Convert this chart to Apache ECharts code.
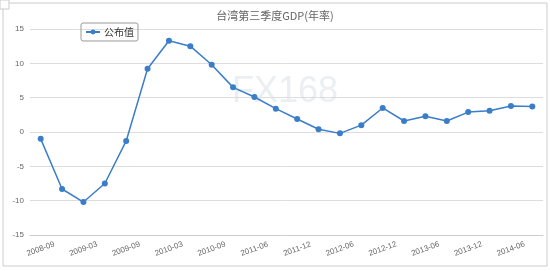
<!DOCTYPE html>
<html><head><meta charset="utf-8">
<script src="https://cdn.jsdelivr.net/npm/echarts@6/dist/echarts.min.js"></script>
<style>html,body{margin:0;padding:0;background:#fff}#c{width:550px;height:271px}</style>
</head><body><div id="c"></div>
<script>
const categories = ['2008-09','2008-12','2009-03','2009-06','2009-09','2009-12','2010-03','2010-06','2010-09','2010-12','2011-06','2011-09','2011-12','2012-03','2012-06','2012-09','2012-12','2013-03','2013-06','2013-09','2013-12','2014-03','2014-06','2014-09'];
const values = [-1.0,-8.3,-10.2,-7.5,-1.3,9.2,13.3,12.5,9.8,6.5,5.1,3.4,1.9,0.4,-0.2,1.0,3.5,1.6,2.3,1.6,2.9,3.1,3.8,3.7];
const seriesName = '公布值';
const titleText = '台湾第三季度GDP(年率)';
const watermark = 'FX168';

const chart = echarts.init(document.getElementById('c'));
chart.setOption({
  animation: false,
  title: { text: titleText, left: 'center', top: 5, textStyle: { fontSize: 11, fontWeight: 'normal', color: '#666', fontFamily: 'Noto Sans CJK SC' } },
  legend: { left: 81, top: 23, itemWidth: 14, itemHeight: 6, padding: [4,4,4,4], borderColor: '#999', borderWidth: 1, borderRadius: 2, textStyle: { fontSize: 10, color: '#333', fontFamily: 'Noto Sans CJK SC', padding: [0,0,0,-1] }, data: [seriesName] },
  graphic: [
    { type: 'rect', shape: { x: 3, y: 3, width: 544, height: 263 }, style: { fill: 'none', stroke: '#ccc', lineWidth: 1 } },
    { type: 'rect', shape: { x: 0, y: 0, width: 9, height: 9 }, style: { fill: '#fff', stroke: '#ccc', lineWidth: 1 } },
    { type: 'text', left: 232, top: 74, style: { text: watermark, fontSize: 36, fill: '#eceff2', fontFamily: 'Liberation Sans' }, z: 0 }
  ],
  grid: { left: 30, right: 7, top: 29, bottom: 36 },
  xAxis: {
    type: 'category', data: categories, boundaryGap: true,
    axisLine: { onZero: false, lineStyle: { color: '#ccc' } },
    axisTick: { interval: 1, lineStyle: { color: '#ccc' } },
    axisLabel: { interval: 1, rotate: 20, align: 'center', margin: 14, fontSize: 8, color: '#666', fontFamily: 'Liberation Sans' }
  },
  yAxis: {
    type: 'value', min: -15, max: 15, interval: 5,
    axisLine: { show: false }, axisTick: { show: false },
    splitLine: { lineStyle: { color: '#ddd' } },
    axisLabel: { fontSize: 8, color: '#666', margin: 6, fontFamily: 'Liberation Sans' }
  },
  series: [{
    name: seriesName, type: 'line', data: values,
    symbol: 'circle', symbolSize: 6,
    lineStyle: { color: '#3a7dc9', width: 1.5 },
    itemStyle: { color: '#3a7dc9' }
  }]
});
</script></body></html>
